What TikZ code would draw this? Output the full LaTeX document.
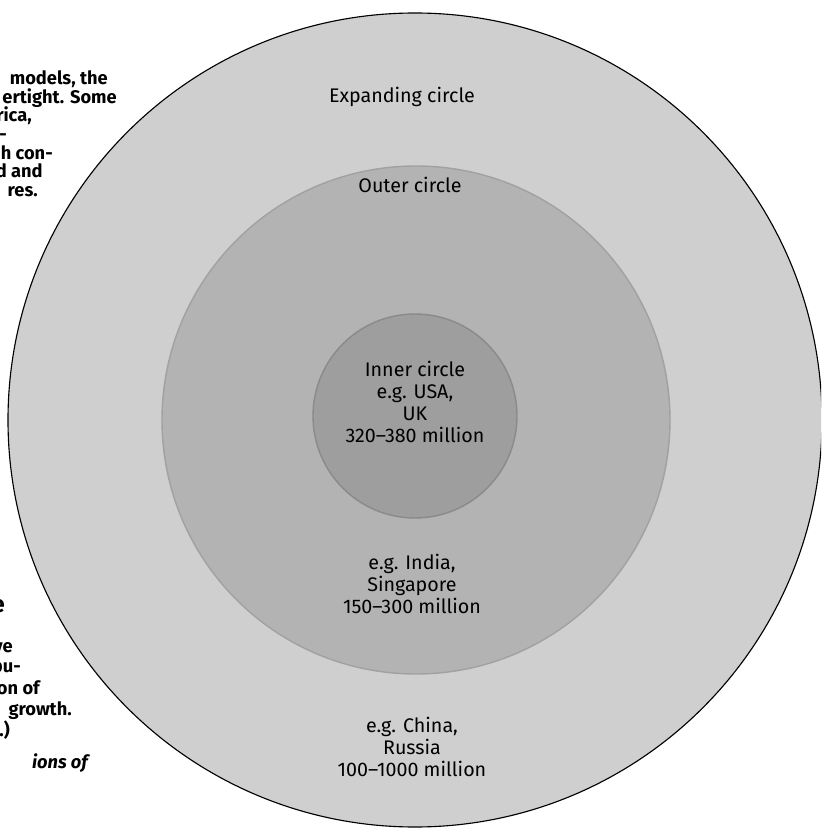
\documentclass[tikz,border=0pt]{standalone}
\usepackage{fontspec}
\setmainfont{Fira Sans}
\usepackage{tikz}
\usetikzlibrary{positioning}
\usepackage{xcolor}
\definecolor{RingLight}{HTML}{CFCFCF}
\definecolor{RingMid}{HTML}{B3B3B3}
\definecolor{RingDark}{HTML}{9E9E9E}
\definecolor{RingEdge}{HTML}{8A8A8A}

\begin{document}
\begin{tikzpicture}[
    ring/.style={circle, inner sep=0pt, fill=#1},
    circlabel/.style={font=\fontsize{14pt}{15.6pt}\selectfont, align=center, inner sep=0pt},
    sidetext/.style={font=\fontsize{13pt}{14pt}\selectfont\bfseries, anchor=east, inner sep=0pt, text height=1.6ex, text depth=.4ex}
  ]
    \clip (-10.375,-10.2) rectangle (10.15,10.5);
    \fill[white] (-10.375,-10.2) rectangle (10.15,10.5);

    \node[ring=RingLight, draw=black, line width=0.8pt, minimum size=20.35cm] (expanding) at (0,0) {};
    \node[ring=RingMid, draw=RingEdge!80, line width=1pt, minimum size=12.7cm] (outer) at (0.025,0) {};
    \node[ring=RingDark, draw=RingEdge, line width=1pt, minimum size=5.1cm] (inner) at (0,0.1) {};

    \node[circlabel] (explabel) at (-0.325, 8.075) {Expanding circle};
    \node[circlabel] (outlabel) at (-0.125, 5.875) {Outer circle};
    \node[circlabel] (innlabel) at (0, 0.45) {Inner circle\\e.g. USA,\\UK\\320--380 million};
    \node[circlabel] (outex) at (-0.075, -4.1) {e.g. India,\\Singapore\\150--300 million};
    \node[circlabel] (expex) at (-0.075, -8.175) {e.g. China,\\Russia\\100--1000 million};

    % cut-off lines of the neighbouring column
    \node[sidetext] (s1) at (-7.675, 8.5) {models, the};
    \node[sidetext] (s2) at (-7.45, 8.025) {ertight. Some};
    \node[sidetext] (s3) at (-9.575, 7.575) {rica,};
    \node[sidetext] (s4) at (-10.2, 7.1) {-};
    \node[sidetext] (s5) at (-9.05, 6.625) {h con-};
    \node[sidetext] (s6) at (-9.3, 6.175) {d and};
    \node[sidetext] (s7) at (-9.425, 5.7) {res.};

    \node[sidetext, font=\fontsize{17pt}{19pt}\selectfont\bfseries] (b1) at (-10.25, -4.7) {e};
    \node[sidetext] (b2) at (-10.05, -5.7) {ve};
    \node[sidetext] (b3) at (-9.85, -6.2) {popu-};
    \node[sidetext] (b4) at (-9.375, -6.75) {on of};
    \node[sidetext] (b5) at (-8.575, -7.275) {growth.};
    \node[sidetext] (b6) at (-10.125, -7.8) {.)};
    \node[sidetext, font=\fontsize{13pt}{14pt}\selectfont\bfseries\itshape] (b7) at (-8.175, -8.6) {ions of};
  \end{tikzpicture}
\end{document}
